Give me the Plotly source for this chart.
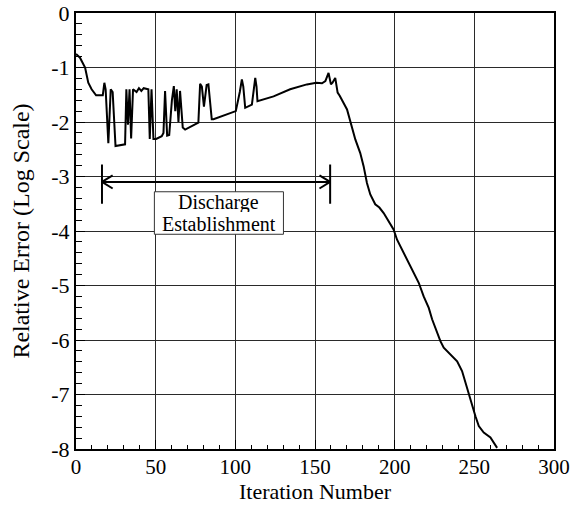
import plotly.graph_objects as go

# ---- data ----
iteration = [0, 2.5, 5.7, 7.7, 9.8, 12.6, 16.8, 17.8, 18.6, 20.3, 21.8, 23.0, 24.8, 30.8,
             31.6, 32.6, 33.6, 34.6, 35.8, 38.0, 39.5, 41.0, 42.5, 44.5, 45.4, 46.3, 47.4,
             48.6, 50.3, 53.8, 54.9, 55.9, 57.2, 58.5, 60.2, 61.4, 62.3, 63.2, 64.3, 65.3,
             67.0, 68.5, 76.8, 77.9, 79.0, 80.3, 82.0, 83.1, 85.2, 86.3, 99.9, 100.3, 102.8,
             104.1, 105.0, 106.2, 110.4, 111.5, 112.5, 113.3, 113.9, 124.0, 134.4, 144.9,
             150.8, 154.4, 156.5, 158.5, 160.0, 161.0, 162.7, 164.2, 165.5, 170.1, 173.2,
             175.3, 178.4, 180.5, 182.6, 184.7, 187.8, 190.4, 193.1, 196.2, 199.3, 201.5,
             204.6, 207.8, 211.9, 215.1, 218.2, 221.4, 223.5, 226.6, 228.7, 230.8, 235.0,
             239.2, 242.3, 244.4, 246.5, 248.6, 250.7, 252.8, 255.9, 260.1, 263.2, 264.3]
log_error = [-0.75, -0.82, -1.0, -1.28, -1.40, -1.51, -1.51, -1.28, -1.40, -2.39, -1.40, -1.45,
             -2.44, -2.41, -1.40, -2.05, -1.40, -2.30, -1.40, -1.45, -1.38, -1.43, -1.38, -1.40,
             -1.40, -2.31, -1.40, -2.31, -2.31, -2.26, -2.20, -1.43, -2.25, -2.24, -1.60, -1.34,
             -1.80, -1.40, -2.00, -1.43, -2.10, -2.14, -2.01, -1.30, -1.35, -1.72, -1.32, -1.31,
             -1.95, -1.95, -1.80, -1.80, -1.45, -1.22, -1.35, -1.74, -1.68, -1.35, -1.19, -1.35,
             -1.62, -1.53, -1.40, -1.31, -1.28, -1.29, -1.25, -1.10, -1.31, -1.28, -1.19, -1.46,
             -1.52, -1.77, -2.08, -2.32, -2.57, -2.81, -3.12, -3.33, -3.51, -3.57, -3.67, -3.82,
             -3.97, -4.16, -4.34, -4.52, -4.74, -4.95, -5.20, -5.41, -5.62, -5.86, -6.02, -6.14,
             -6.27, -6.39, -6.57, -6.79, -7.00, -7.21, -7.40, -7.58, -7.70, -7.79, -7.92, -7.98]

x_ticks = [0, 50, 100, 150, 200, 250, 300]
x_tick_labels = ["0", "50", "100", "150", "200", "250", "300"]
y_ticks = [0, -1, -2, -3, -4, -5, -6, -7, -8]
y_tick_labels = ["0", "-1", "-2", "-3", "-4", "-5", "-6", "-7", "-8"]

# annotation geometry (data units)
arrow_start, arrow_end, arrow_y = 16.3, 159.5, -3.1
bar_top, bar_bottom = -2.78, -3.5
head_dx, head_dy = 6.7, 0.12
box_x0, box_x1, box_y0, box_y1 = 49.2, 130.2, -3.28, -4.06
label_lines = ["Discharge", "Establishment"]
label_x, label_ys = 89.7, [-3.48, -3.86]

FONT = "Liberation Serif, Times New Roman, serif"

fig = go.Figure()
fig.add_trace(go.Scatter(x=iteration, y=log_error, mode="lines",
                         line=dict(color="black", width=2), showlegend=False,
                         hoverinfo="skip"))

shapes = []
ln = dict(color="black", width=2)
shapes.append(dict(type="line", x0=arrow_start, x1=arrow_end, y0=arrow_y, y1=arrow_y, line=ln))
for bx in (arrow_start, arrow_end):
    shapes.append(dict(type="line", x0=bx, x1=bx, y0=bar_top, y1=bar_bottom, line=ln))
for tip, sgn in ((arrow_start, 1), (arrow_end, -1)):
    for s in (1, -1):
        shapes.append(dict(type="line", x0=tip, y0=arrow_y, x1=tip + sgn * head_dx,
                           y1=arrow_y + s * head_dy, line=ln))
shapes.append(dict(type="rect", x0=box_x0, x1=box_x1, y0=box_y0, y1=box_y1,
                   line=dict(color="#333", width=1), fillcolor="white", layer="above"))
fig.update_layout(shapes=shapes)

for txt, yy in zip(label_lines, label_ys):
    fig.add_annotation(x=label_x, y=yy, text=txt, showarrow=False, height=19,
                       borderpad=0, valign="middle",
                       font=dict(family=FONT, size=20, color="black"))

fig.update_layout(
    width=573, height=509,
    margin=dict(l=76, r=19, t=13, b=60),
    paper_bgcolor="white", plot_bgcolor="white",
    font=dict(family=FONT, color="black", size=21),
    xaxis=dict(range=[0, 300], tickvals=x_ticks, ticktext=x_tick_labels,
               showgrid=True, gridcolor="#2a2a2a", gridwidth=1,
               showline=True, linecolor="black", linewidth=2, mirror=True,
               ticks="inside", ticklen=9, tickcolor="black", tickwidth=1,
               minor=dict(dtick=10, ticks="inside", ticklen=4, tickcolor="black", showgrid=False),
               zeroline=False, tickfont=dict(size=21), ticklabelstandoff=-2,
               automargin=False,
               title=dict(text="Iteration Number", font=dict(size=22), standoff=4)),
    yaxis=dict(range=[-8, 0], tickvals=y_ticks, ticktext=y_tick_labels,
               showgrid=True, gridcolor="#2a2a2a", gridwidth=1,
               showline=True, linecolor="black", linewidth=2, mirror=True,
               ticks="inside", ticklen=9, tickcolor="black", tickwidth=1,
               minor=dict(dtick=0.2, ticks="inside", ticklen=6, tickcolor="black", showgrid=False),
               zeroline=False, tickfont=dict(size=22), automargin=False,
               title=dict(text="Relative Error (Log Scale)", font=dict(size=24), standoff=15)),
)

fig.write_html("out.html", config={"displayModeBar": False},
               post_script="document.body.style.margin='0';document.body.style.padding='0';")
